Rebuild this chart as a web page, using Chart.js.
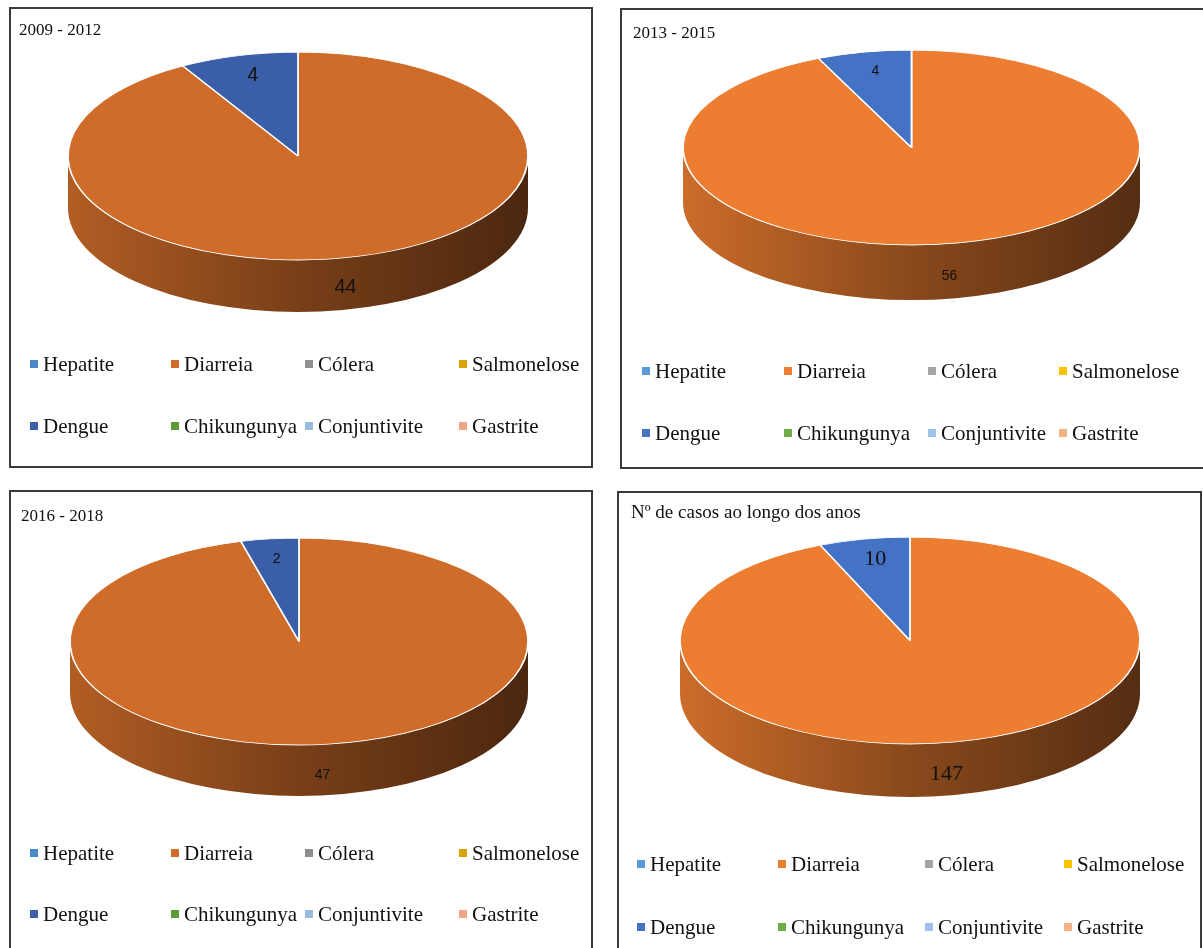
<!DOCTYPE html>
<html>
<head>
<meta charset="utf-8">
<script src="https://cdn.jsdelivr.net/npm/chart.js@4.4.1/dist/chart.umd.min.js"></script>
<style>
body { margin: 0; background: #fff; width: 1203px; height: 948px; overflow: hidden; position: relative; font-family: "Liberation Serif", "Times New Roman", serif; }
.panel { position: absolute; border: 2px solid #3a3a3a; box-sizing: border-box; background: #fff; overflow: hidden; }
.panel canvas { position: absolute; left: 0; top: 0; }
.ttl { position: absolute; color: #111; white-space: nowrap; line-height: 1; }
.leg { position: absolute; font-size: 21px; line-height: 24px; color: #111; white-space: nowrap; }
.leg i { position: absolute; left: 0; top: 8px; width: 8px; height: 8px; }
.leg span { position: absolute; left: 13px; top: 0; }
</style>
</head>
<body>
<script>
// data
var categories = ['Hepatite', 'Diarreia', 'Cólera', 'Salmonelose', 'Dengue', 'Chikungunya', 'Conjuntivite', 'Gastrite'];
var casos2009_2012 = [0, 44, 0, 0, 4, 0, 0, 0];
var casos2013_2015 = [0, 56, 0, 0, 4, 0, 0, 0];
var casos2016_2018 = [0, 47, 0, 0, 2, 0, 0, 0];
var casosTotal = [0, 147, 0, 0, 10, 0, 0, 0];
var titles = ['2009 - 2012', '2013 - 2015', '2016 - 2018', 'Nº de casos ao longo dos anos'];

// colours (panels 1 and 3 use a darker style)
var darkColors = ['#4A89C5', '#CF6C2A', '#8F8F8F', '#DDA400', '#3A5FA8', '#5F9A3E', '#97BDE3', '#F0A585'];
var officeColors = ['#5B9BD5', '#ED7D31', '#A5A5A5', '#FFC000', '#4472C4', '#70AD47', '#9DC3E6', '#F4B183'];

// panel layout (screen px)
var panels = [
    { left: 9, top: 7, w: 584, h: 461, values: casos2009_2012, colors: darkColors, pie: [68, 52, 528, 312], depth: 52,
      ttl: [8, 12, 17], lab: '20px "Liberation Sans"', cols: [21, 162, 296, 450], rows: [357, 419] },
    { left: 620, top: 8, w: 600, h: 461, values: casos2013_2015, colors: officeColors, pie: [683, 50, 1140, 300], depth: 55,
      ttl: [11, 14, 17], lab: '14px "Liberation Sans"', cols: [22, 164, 308, 439], rows: [363, 425] },
    { left: 9, top: 490, w: 584, h: 480, values: casos2016_2018, colors: darkColors, pie: [70, 538, 528, 796], depth: 51,
      ttl: [10, 15, 17], lab: '14px "Liberation Sans"', cols: [21, 162, 296, 450], rows: [363, 424] },
    { left: 617, top: 491, w: 585, h: 480, values: casosTotal, colors: officeColors, pie: [680, 537, 1140, 797], depth: 53,
      ttl: [12, 9, 19], lab: '22px "Liberation Serif"', cols: [20, 161, 308, 447], rows: [373, 436] }
];

function shade(hex, f) {
    var n = parseInt(hex.slice(1), 16);
    var r = Math.round(((n >> 16) & 255) * f), g = Math.round(((n >> 8) & 255) * f), b = Math.round((n & 255) * f);
    return 'rgb(' + r + ',' + g + ',' + b + ')';
}

// fake 3D pie: squash the circle into an ellipse and draw a side wall under it
var pie3d = {
    id: 'pie3d',
    beforeDatasetsDraw: function(chart, args, opts) {
        var ctx = chart.ctx, a = chart.chartArea;
        var meta = chart.getDatasetMeta(0);
        var depth = opts.depth;
        var cx = (a.left + a.right) / 2, rx = (a.right - a.left) / 2;
        var ry = (a.bottom - a.top - depth) / 2, cy = a.top + ry;
        chart.$geo = { cx: cx, cy: cy, rx: rx, ry: ry, depth: depth };

        meta.data.forEach(function(arc) {
            var s = arc.startAngle, e = arc.endAngle;
            if (e - s <= 0) return;
            var a1 = Math.max(s, 0), a2 = Math.min(e, Math.PI);
            if (a2 <= a1) return;
            var base = arc.options.backgroundColor;
            var grad = ctx.createLinearGradient(cx - rx, 0, cx + rx, 0);
            grad.addColorStop(0, shade(base, 0.86));
            grad.addColorStop(0.5, shade(base, 0.58));
            grad.addColorStop(1, shade(base, 0.36));
            ctx.beginPath();
            ctx.ellipse(cx, cy, rx, ry, 0, a1, a2, false);
            ctx.lineTo(cx + rx * Math.cos(a2), cy + ry * Math.sin(a2) + depth);
            ctx.ellipse(cx, cy + depth, rx, ry, 0, a2, a1, true);
            ctx.closePath();
            ctx.fillStyle = grad;
            ctx.fill();
        });

        var el = meta.data[0];
        var R = el.outerRadius;
        ctx.save();
        ctx.translate(cx, cy);
        ctx.scale(rx / R, ry / R);
        ctx.translate(-el.x, -el.y);
    },
    afterDatasetsDraw: function(chart, args, opts) {
        var ctx = chart.ctx, g = chart.$geo;
        ctx.restore();
        var meta = chart.getDatasetMeta(0);
        var values = chart.data.datasets[0].data;
        ctx.save();
        ctx.font = opts.font;
        ctx.fillStyle = '#111';
        ctx.textAlign = 'center';
        ctx.textBaseline = 'middle';
        meta.data.forEach(function(arc, i) {
            if (!values[i]) return;
            var mid = (arc.startAngle + arc.endAngle) / 2;
            var x, y;
            if (Math.sin(mid) > 0.3) {
                // label sits on the front wall
                x = g.cx + g.rx * 0.8 * Math.cos(mid);
                y = g.cy + g.ry * Math.sin(mid) + g.depth * 0.6;
            } else {
                x = g.cx + g.rx * 0.76 * Math.cos(mid);
                y = g.cy + g.ry * 0.8 * Math.sin(mid);
            }
            ctx.fillText(String(values[i]), x, y);
        });
        ctx.restore();
    }
};

panels.forEach(function(p, k) {
    var div = document.createElement('div');
    div.className = 'panel';
    div.style.left = p.left + 'px';
    div.style.top = p.top + 'px';
    div.style.width = p.w + 'px';
    div.style.height = p.h + 'px';
    document.body.appendChild(div);

    var cw = p.w - 4, ch = p.h - 4;
    var canvas = document.createElement('canvas');
    canvas.width = cw;
    canvas.height = ch;
    canvas.style.width = cw + 'px';
    canvas.style.height = ch + 'px';
    div.appendChild(canvas);

    var t = document.createElement('div');
    t.className = 'ttl';
    t.textContent = titles[k];
    t.style.left = p.ttl[0] + 'px';
    t.style.top = p.ttl[1] + 'px';
    t.style.fontSize = p.ttl[2] + 'px';
    div.appendChild(t);

    categories.forEach(function(name, i) {
        var item = document.createElement('div');
        item.className = 'leg';
        item.style.left = (p.cols[i % 4] - 2) + 'px';
        item.style.top = (p.rows[Math.floor(i / 4)] - 2 - 12) + 'px';
        item.innerHTML = '<i style="background:' + p.colors[i] + '"></i><span>' + name + '</span>';
        div.appendChild(item);
    });

    var ox = p.left + 2, oy = p.top + 2;
    new Chart(canvas.getContext('2d'), {
        type: 'pie',
        data: {
            labels: categories,
            datasets: [{
                data: p.values,
                backgroundColor: p.colors,
                borderColor: '#ffffff',
                borderWidth: 1,
                hoverOffset: 0,
                clip: false
            }]
        },
        options: {
            responsive: false,
            animation: false,
            events: [],
            layout: {
                padding: {
                    left: p.pie[0] - ox,
                    top: p.pie[1] - oy,
                    right: ox + cw - p.pie[2],
                    bottom: oy + ch - p.pie[3]
                }
            },
            plugins: {
                legend: { display: false },
                tooltip: { enabled: false },
                pie3d: { depth: p.depth, font: p.lab }
            }
        },
        plugins: [pie3d]
    });
});
</script>
</body>
</html>
